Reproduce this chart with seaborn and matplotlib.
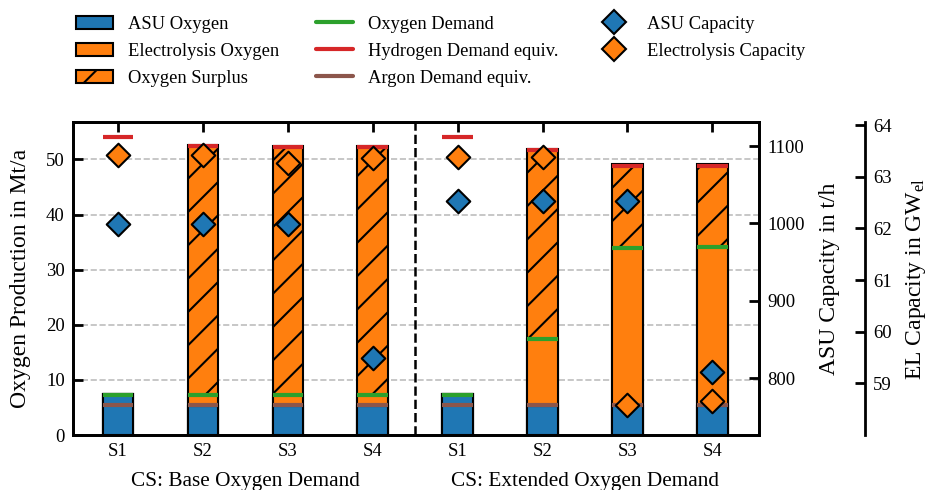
import numpy as np
import pandas as pd
import matplotlib
matplotlib.use("Agg")
import matplotlib.pyplot as plt
import matplotlib.transforms as mtransforms
from matplotlib.patches import Patch
from matplotlib.lines import Line2D
import seaborn as sns

# ---- data -------------------------------------------------------------
case_groups = ["CS: Base Oxygen Demand", "CS: Extended Oxygen Demand"]
scenarios = ["S1", "S2", "S3", "S4", "S1", "S2", "S3", "S4"]
bar_ids = ["B-S1", "B-S2", "B-S3", "B-S4", "E-S1", "E-S2", "E-S3", "E-S4"]

# oxygen production in Mt/a
asu_oxygen = [7.4, 5.2, 5.2, 5.2, 7.4, 5.2, 5.2, 5.2]
electrolysis_oxygen = [0.0, 2.0, 2.0, 2.0, 0.0, 12.2, 28.7, 28.9]
oxygen_surplus = [0.0, 45.4, 45.2, 45.2, 0.0, 34.5, 15.2, 15.0]

# demand markers in Mt/a
oxygen_demand = [7.2, 7.2, 7.2, 7.2, 7.2, 17.4, 33.9, 34.1]
hydrogen_demand_equiv = [54.0, 52.4, 52.2, 52.2, 54.0, 51.7, 48.9, 48.9]
argon_demand_equiv = [5.4, 5.4, 5.4, 5.4, 5.4, 5.4, 5.4, 5.4]

# installed capacities
asu_capacity = [999, 999, 999, 826, 1029, 1029, 1029, 808]        # t/h
el_capacity = [63.42, 63.43, 63.27, 63.37, 63.38, 63.38, 58.58, 58.66]  # GW_el

left_ticks = [0, 10, 20, 30, 40, 50]
asu_ticks = [800, 900, 1000, 1100]
el_ticks = [59, 60, 61, 62, 63, 64]

# ---- style ------------------------------------------------------------
BLUE, ORANGE, GREEN, RED, BROWN = "#1f77b4", "#ff7f0e", "#2ca02c", "#d62728", "#8c564b"

sns.set_theme(style="ticks")
plt.rcParams["font.family"] = ["Liberation Serif", "DejaVu Serif"]
plt.rcParams["mathtext.fontset"] = "custom"
plt.rcParams["mathtext.rm"] = "Liberation Serif"
plt.rcParams["mathtext.it"] = "Liberation Serif:italic"
plt.rcParams["hatch.linewidth"] = 1.5
plt.rcParams["axes.linewidth"] = 2.0
for key in ["axes.edgecolor", "xtick.color", "ytick.color", "text.color",
            "axes.labelcolor"]:
    plt.rcParams[key] = "black"

TICK_FS = 13.5
LABEL_FS = 17
GROUP_FS = 15.3
LEGEND_FS = 13.3
BAR_W = 0.36

fig = plt.figure(figsize=(9.28, 4.9), dpi=100)
ax = fig.add_axes([73 / 928, 1 - 435 / 490, 686 / 928, 313 / 490])

asu_arr = np.array(asu_oxygen)
el_top = asu_arr + np.array(electrolysis_oxygen)
total = el_top + np.array(oxygen_surplus)
df = pd.DataFrame({"bar": bar_ids, "asu": asu_arr, "el_top": el_top, "total": total})

bar_kw = dict(width=BAR_W, edgecolor="black", linewidth=1.5, saturation=1,
              errorbar=None, ax=ax, zorder=2)
# layers are drawn from the tallest cumulative height down
sns.barplot(data=df, x="bar", y="total", color=ORANGE, hatch="/", **bar_kw)
sns.barplot(data=df, x="bar", y="el_top", color=ORANGE, **bar_kw)
sns.barplot(data=df, x="bar", y="asu", color=BLUE, **bar_kw)

xpos = np.arange(len(bar_ids))
for vals, col in [(argon_demand_equiv, BROWN), (oxygen_demand, GREEN),
                  (hydrogen_demand_equiv, RED)]:
    ax.hlines(vals, xpos - BAR_W / 2, xpos + BAR_W / 2, colors=col, lw=3, zorder=4)

ax.axvline(3.5, color="black", ls="--", lw=1.8, zorder=5)

ax.set_xlim(-0.53, 7.55)
ax.set_ylim(0, 56.8)
ax.set_xticks(xpos)
ax.set_xticklabels(scenarios)
ax.set_yticks(left_ticks)
ax.set_xlabel("")
ax.set_ylabel("Oxygen Production in Mt/a", fontsize=LABEL_FS)
ax.yaxis.set_label_coords(-0.061, 0.5)
ax.yaxis.grid(True, ls="--", color="#bdbdbd", lw=1.2)
ax.set_axisbelow(True)
ax.tick_params(axis="both", direction="in", length=7, width=2.0,
               labelsize=TICK_FS, pad=6)
ax.tick_params(axis="x", top=True)

blend = mtransforms.blended_transform_factory(ax.transData, ax.transAxes)
for cx, txt in zip([1.5, 5.5], case_groups):
    ax.text(cx, -0.148, txt, transform=blend, ha="center", va="center",
            fontsize=GROUP_FS)

# ASU capacity axis
ax2 = ax.twinx()
sns.scatterplot(x=xpos, y=asu_capacity, marker="D", s=144, color=BLUE,
                edgecolor="black", linewidth=1.5, ax=ax2, legend=False, zorder=6)
ax2.set_ylim(727, 1131)
ax2.set_yticks(asu_ticks)
ax2.set_ylabel("ASU Capacity in t/h", fontsize=LABEL_FS)
ax2.yaxis.set_label_coords(1.087, 0.5)
ax2.tick_params(axis="y", direction="in", length=7, width=2.0,
                labelsize=TICK_FS, pad=6)

# electrolysis capacity axis
ax3 = ax.twinx()
ax3.spines["right"].set_position(("axes", 1.1545))
for s in ["left", "top", "bottom"]:
    ax3.spines[s].set_visible(False)
sns.scatterplot(x=xpos, y=el_capacity, marker="D", s=144, color=ORANGE,
                edgecolor="black", linewidth=1.5, ax=ax3, legend=False, zorder=6)
ax3.set_ylim(58, 64.06)
ax3.set_yticks(el_ticks)
ax3.set_ylabel(r"EL Capacity in GW$_{\mathrm{el}}$", fontsize=LABEL_FS)
ax3.yaxis.set_label_coords(1.211, 0.5)
ax3.tick_params(axis="y", direction="in", length=7, width=2.0,
                labelsize=TICK_FS, pad=6)
ax.set_xlim(-0.53, 7.55)

handles = [
    Patch(facecolor=BLUE, edgecolor="black", lw=1.5),
    Patch(facecolor=ORANGE, edgecolor="black", lw=1.5),
    Patch(facecolor=ORANGE, edgecolor="black", lw=1.5, hatch="/"),
    Line2D([], [], color=GREEN, lw=3),
    Line2D([], [], color=RED, lw=3),
    Line2D([], [], color=BROWN, lw=3),
    Line2D([], [], ls="none", marker="D", ms=12, mfc=BLUE, mec="black", mew=1.5),
    Line2D([], [], ls="none", marker="D", ms=12, mfc=ORANGE, mec="black", mew=1.5),
]
labels = ["ASU Oxygen", "Electrolysis Oxygen", "Oxygen Surplus",
          "Oxygen Demand", "Hydrogen Demand equiv.", "Argon Demand equiv.",
          "ASU Capacity", "Electrolysis Capacity"]
fig.legend(handles, labels, loc="upper left", bbox_to_anchor=(0.0644, 1.002),
           ncol=3, frameon=False, fontsize=LEGEND_FS, labelspacing=0.55,
           columnspacing=2.0, handlelength=2.0, handletextpad=0.8)

fig.savefig("out.png", dpi=100)
